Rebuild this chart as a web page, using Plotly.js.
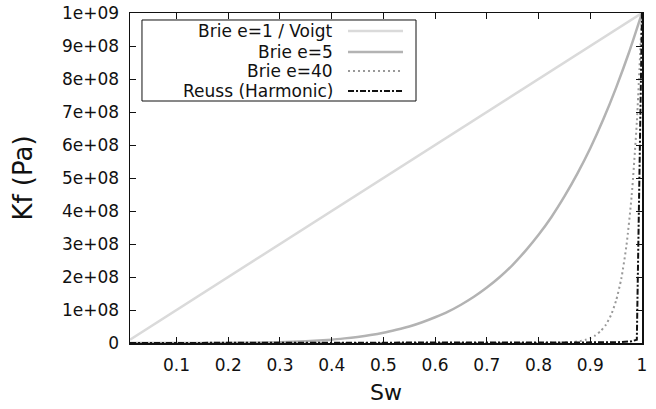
<!DOCTYPE html>
<html>
<head>
<meta charset="utf-8">
<script src="https://cdn.plot.ly/plotly-3.0.1.min.js"></script>
<style>html,body{margin:0;padding:0;background:#fff;}#chart{width:656px;height:409px;}</style>
</head>
<body>
<div id="chart"></div>
<script>
// Data
const seriesNames = ["Brie e=1 / Voigt", "Brie e=5", "Brie e=40", "Reuss (Harmonic)"];

const swVoigt = [0.01, 1.0];
const kfVoigt = [1.0e7, 1.0e9];

const swBrie5 = [0.01, 0.1, 0.2, 0.25, 0.3, 0.35, 0.4, 0.425, 0.45, 0.475, 0.5, 0.525, 0.55, 0.575, 0.6, 0.625, 0.65, 0.675, 0.7, 0.725, 0.75, 0.775, 0.8, 0.825, 0.85, 0.875, 0.9, 0.925, 0.95, 0.975, 1.0];
const kfBrie5 = [0, 1.0e4, 3.2e5, 9.8e5, 2.4e6, 5.3e6, 1.02e7, 1.4e7, 1.85e7, 2.4e7, 3.1e7, 4.0e7, 5.0e7, 6.3e7, 7.8e7, 9.5e7, 1.16e8, 1.40e8, 1.68e8, 2.0e8, 2.37e8, 2.8e8, 3.28e8, 3.82e8, 4.44e8, 5.13e8, 5.9e8, 6.77e8, 7.74e8, 8.81e8, 1.0e9];

const swBrie40 = [0.01, 0.5, 0.8, 0.85, 0.87, 0.88, 0.89, 0.9, 0.91, 0.92, 0.93, 0.94, 0.95, 0.96, 0.97, 0.98, 0.99, 1.0];
const kfBrie40 = [0, 0, 1.3e5, 1.5e6, 3.8e6, 6.0e6, 9.5e6, 1.48e7, 2.3e7, 3.6e7, 5.5e7, 8.4e7, 1.29e8, 1.95e8, 2.96e8, 4.46e8, 6.69e8, 1.0e9];

const swReuss = [0.01, 0.5, 0.9, 0.95, 0.98, 0.99, 1.0];
const kfReuss = [1.0e5, 2.0e5, 1.0e6, 2.0e6, 5.0e6, 1.0e7, 1.0e9];

const xTickVals = [0.1, 0.2, 0.3, 0.4, 0.5, 0.6, 0.7, 0.8, 0.9, 1.0];
const xTickText = ["0.1", "0.2", "0.3", "0.4", "0.5", "0.6", "0.7", "0.8", "0.9", "1"];
const yTickVals = [0, 1e8, 2e8, 3e8, 4e8, 5e8, 6e8, 7e8, 8e8, 9e8, 1e9];
const yTickText = ["0", "1e+08", "2e+08", "3e+08", "4e+08", "5e+08", "6e+08", "7e+08", "8e+08", "9e+08", "1e+09"];

const styles = [
  {color: "#dadada", width: 2.5, dash: "solid"},
  {color: "#b3b3b3", width: 2.5, dash: "solid"},
  {color: "#999999", width: 2, dash: "2px,3px"},
  {color: "#111111", width: 2, dash: "6px,2px,2px,2px"}
];

const xs = [swVoigt, swBrie5, swBrie40, swReuss];
const ys = [kfVoigt, kfBrie5, kfBrie40, kfReuss];

const traces = xs.map((x, i) => ({
  x: x, y: ys[i], type: "scatter", mode: "lines", name: seriesNames[i],
  line: {color: styles[i].color, width: styles[i].width, dash: styles[i].dash, shape: (i === 1 || i === 2) ? "spline" : "linear", smoothing: 0.6},
  showlegend: false, hoverinfo: "skip"
}));

// custom gnuplot-style legend (text right-aligned, sample line on right)
const legRows = [0.9455, 0.8818, 0.8242, 0.7636];
const annotations = seriesNames.map((n, i) => ({
  xref: "paper", yref: "paper", x: 0.4004, y: legRows[i], xanchor: "right", yanchor: "middle",
  text: n, showarrow: false, font: {family: "DejaVu Sans", size: 17, color: "#111"}
}));
const shapes = [{
  type: "rect", xref: "paper", yref: "paper", x0: 0.0234, x1: 0.5586, y0: 0.7333, y1: 0.9788,
  line: {color: "#111", width: 1}, fillcolor: "#fff", layer: "above"
}].concat(seriesNames.map((n, i) => ({
  type: "line", xref: "paper", yref: "paper", x0: 0.4258, x1: 0.5332, y0: legRows[i], y1: legRows[i],
  line: {color: styles[i].color, width: styles[i].width, dash: styles[i].dash}, layer: "above"
})));

const axisCommon = {
  showline: true, linecolor: "#111", linewidth: 1.5, mirror: "ticks",
  ticks: "inside", ticklen: 6, tickcolor: "#111", tickwidth: 1,
  showgrid: false, zeroline: false,
  tickfont: {family: "DejaVu Sans", size: 17, color: "#111"}
};

const layout = {
  width: 656, height: 409,
  margin: {l: 130, r: 14, t: 13, b: 66},
  paper_bgcolor: "#fff", plot_bgcolor: "#fff",
  xaxis: Object.assign({}, axisCommon, {
    range: [0.01, 1.0], tickmode: "array", tickvals: xTickVals, ticktext: xTickText,
    ticklabelstandoff: 6,
    title: {text: "Sw", font: {family: "DejaVu Sans", size: 22, color: "#111"}, standoff: 10}
  }),
  yaxis: Object.assign({}, axisCommon, {
    range: [0, 1.0e9], tickmode: "array", tickvals: yTickVals, ticktext: yTickText,
    ticklabelstandoff: 6,
    title: {text: "Kf (Pa)", font: {family: "DejaVu Sans", size: 26, color: "#111"}, standoff: 22}
  }),
  annotations: annotations,
  shapes: shapes
};

Plotly.newPlot("chart", traces, layout, {staticPlot: true, displayModeBar: false});
</script>
</body>
</html>
